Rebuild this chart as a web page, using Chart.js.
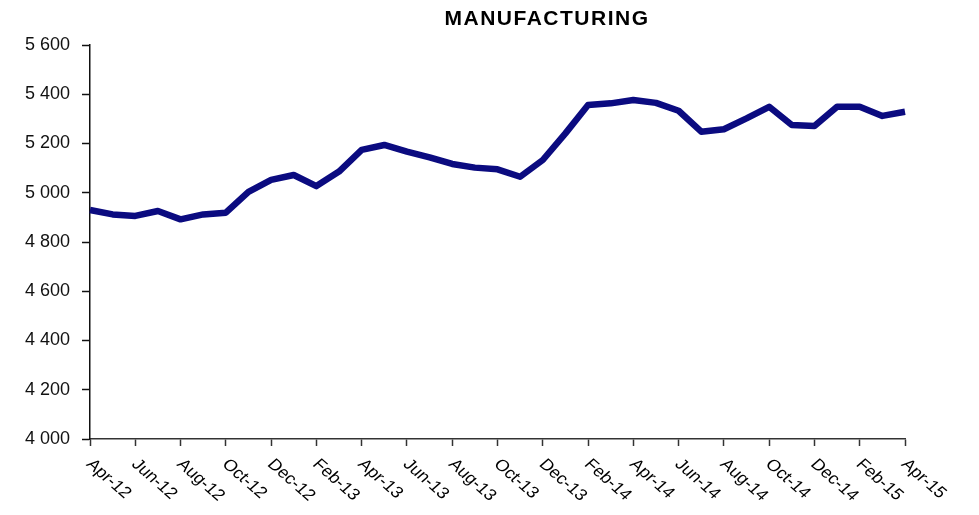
<!DOCTYPE html>
<html>
<head>
<meta charset="utf-8">
<script src="https://cdn.jsdelivr.net/npm/chart.js@4/dist/chart.umd.min.js"></script>
<style>
  html, body { margin: 0; padding: 0; background: #fff; }
  #wrap { width: 979px; height: 515px; }
</style>
</head>
<body>
<div id="wrap"><canvas id="c" width="979" height="515"></canvas></div>
<script>
const chartTitle = 'MANUFACTURING';
const categories = [
  'Apr-12','May-12','Jun-12','Jul-12','Aug-12','Sep-12','Oct-12','Nov-12','Dec-12','Jan-13',
  'Feb-13','Mar-13','Apr-13','May-13','Jun-13','Jul-13','Aug-13','Sep-13','Oct-13','Nov-13',
  'Dec-13','Jan-14','Feb-14','Mar-14','Apr-14','May-14','Jun-14','Jul-14','Aug-14','Sep-14',
  'Oct-14','Nov-14','Dec-14','Jan-15','Feb-15','Mar-15','Apr-15'
];
const manufacturing = [
  4930, 4912, 4906, 4926, 4892, 4912, 4919, 5004, 5052, 5072,
  5027, 5086, 5174, 5194, 5167, 5144, 5117, 5102, 5095, 5065,
  5133, 5241, 5356, 5363, 5377, 5365, 5333, 5248, 5258, 5302,
  5349, 5275, 5271, 5349, 5349, 5312, 5329
];
const yMin = 4000, yMax = 5600, yStep = 200;

function fmtThousands(v) {
  return String(v).replace(/\B(?=(\d{3})+(?!\d))/g, ' ');
}

const diagLabels = {
  id: 'diagLabels',
  afterDraw(chart) {
    const ctx = chart.ctx;
    const xs = chart.scales.x;
    const bottom = chart.chartArea.bottom;
    ctx.save();
    ctx.font = '16px "Liberation Sans", Arial, sans-serif';
    ctx.fillStyle = '#000';
    ctx.textAlign = 'left';
    ctx.textBaseline = 'middle';
    categories.forEach((lab, i) => {
      if (i % 2) return;
      const x = xs.getPixelForValue(i);
      ctx.save();
      ctx.translate(x - 1, bottom + 23);
      ctx.scale(1.15, 1);
      ctx.rotate(Math.PI / 4);
      ctx.fillText(lab, 0, 0);
      ctx.restore();
    });
    // title
    ctx.font = 'bold 21px "Liberation Sans", Arial, sans-serif';
    if ('letterSpacing' in ctx) ctx.letterSpacing = '1.5px';
    ctx.textAlign = 'center';
    ctx.textBaseline = 'middle';
    ctx.fillStyle = '#000';
    ctx.fillText(chartTitle, 547, 19);
    ctx.restore();
  }
};

new Chart(document.getElementById('c'), {
  type: 'line',
  data: {
    labels: categories,
    datasets: [{
      label: chartTitle,
      data: manufacturing,
      borderColor: '#0b0b80',
      borderWidth: 6.5,
      pointRadius: 0,
      tension: 0,
      borderJoinStyle: 'round',
      borderCapStyle: 'butt',
      fill: false
    }]
  },
  options: {
    responsive: false,
    animation: false,
    layout: { padding: { top: 45, right: 74, bottom: 0, left: 0 } },
    plugins: {
      legend: { display: false },
      title: { display: false },
      tooltip: { enabled: false }
    },
    scales: {
      x: {
        type: 'category',
        offset: false,
        border: { display: true, color: '#333', width: 1.5 },
        grid: {
          drawOnChartArea: false,
          drawTicks: true,
          tickLength: 7,
          tickColor: (c) => (c.index % 2 ? 'rgba(0,0,0,0)' : '#333'),
          tickWidth: 1.5
        },
        ticks: { display: false, autoSkip: false },
        afterFit(scale) { scale.height = 515 - 439; }
      },
      y: {
        min: yMin,
        max: yMax,
        border: { display: true, color: '#111', width: 1.5 },
        grid: {
          drawOnChartArea: false,
          drawTicks: true,
          tickLength: 8,
          tickColor: '#111',
          tickWidth: 1.5
        },
        ticks: {
          stepSize: yStep,
          padding: 12,
          color: '#111',
          font: { family: '"Liberation Sans", Arial, sans-serif', size: 18 },
          callback: (v) => fmtThousands(v)
        },
        afterFit(scale) { scale.width = 90; }
      }
    }
  },
  plugins: [diagLabels]
});
</script>
</body>
</html>
